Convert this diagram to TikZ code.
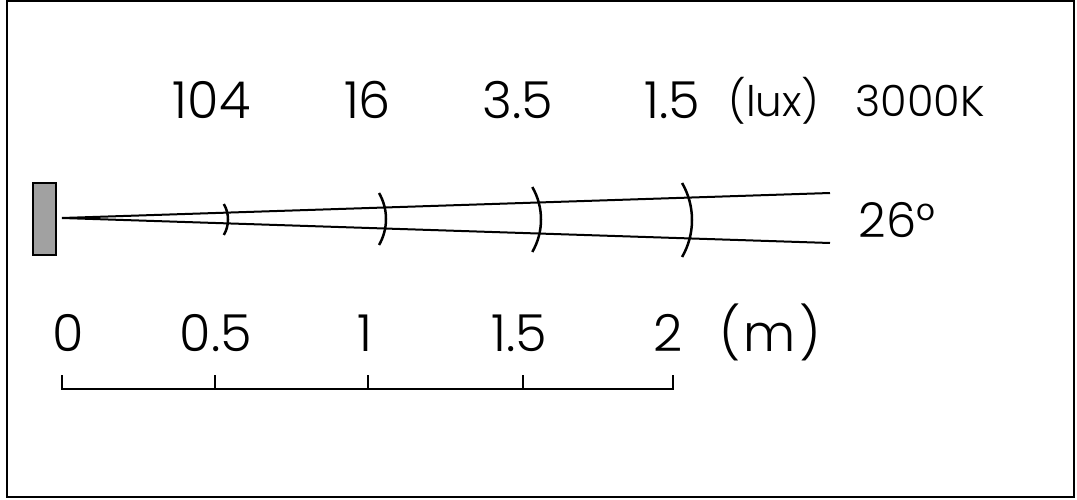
\documentclass[tikz,border=0pt]{standalone}
\usepackage{fontspec}
\setmainfont{Poppins}[UprightFont=* Light]
\begin{document}
\begin{tikzpicture}[x=1pt,y=-1pt,line width=2pt,
  big/.style={font=\fontsize{51}{51}\selectfont,anchor=base,inner sep=0pt},
  deg/.style={font=\fontsize{48}{48}\selectfont,anchor=base,inner sep=0pt},
  mid/.style={font=\fontsize{43}{43}\selectfont,anchor=base,inner sep=0pt},
  small/.style={font=\fontsize{42}{42}\selectfont,anchor=base,inner sep=0pt},
  lamp/.style={draw,fill=black!37,line width=2pt,minimum width=23pt,minimum height=72pt,inner sep=0pt},
  beam/.style={line width=2pt},
  arcline/.style={line width=2.5pt},
  scaleline/.style={line width=2pt}]
\useasboundingbox (0,0) rectangle (1077,500);
\draw[line width=2pt] (7,1) rectangle (1074,497);
% lamp
\node[lamp] (lamp) at (44.5,219) {};
% beam
\coordinate (apex) at (62,218);
\coordinate (up) at (830,193);
\coordinate (lo) at (830,243);
\draw[beam] (up) -- (apex) -- (lo);
% arcs
\coordinate (c1) at (197,219.5);
\coordinate (c2) at (334,219);
\coordinate (c3) at (476,219.5);
\coordinate (c4) at (618,220);
\draw[arcline] ([shift={(-30:31)}]c1) arc (-30:30:31);
\draw[arcline] ([shift={(-30:52)}]c2) arc (-30:30:52);
\draw[arcline] ([shift={(-30:65)}]c3) arc (-30:30:65);
\draw[arcline] ([shift={(-30:74)}]c4) arc (-30:30:74);
% lux labels
\node[big] (l1) at (211.5,119) {104};
\node[big] (l2) at (367.5,119) {16};
\node[big] (l3) at (518,119) {3.5};
\node[big] (l4) at (672,119) {1.5};
\node[small] (lux) at (774,117) {(lux)};
\node[mid] (k) at (920,117) {3000K};
\node[deg] (deg) at (897,237) {26°};
% scale
\coordinate (s0) at (62,389);
\coordinate (s4) at (673,389);
\coordinate (t0) at (62,375);
\coordinate (t4) at (673,375);
\draw[scaleline] (t0) -- (s0) -- (s4) -- (t4);
\foreach \x/\n in {215/a,368/b,523/c}{
  \coordinate (sb\n) at (\x,389);
  \coordinate (st\n) at (\x,375);
  \draw[scaleline] (sb\n) -- (st\n);
}
\node[big] (m0) at (68,351) {0};
\node[big] (m1) at (216,351) {0.5};
\node[big] (m2) at (365,351) {1};
\node[big] (m3) at (519,351) {1.5};
\node[big] (m4) at (668,351) {2};
\node[big] (mu) at (770,351) {(\kern3pt m\kern3pt)};
\end{tikzpicture}
\end{document}
